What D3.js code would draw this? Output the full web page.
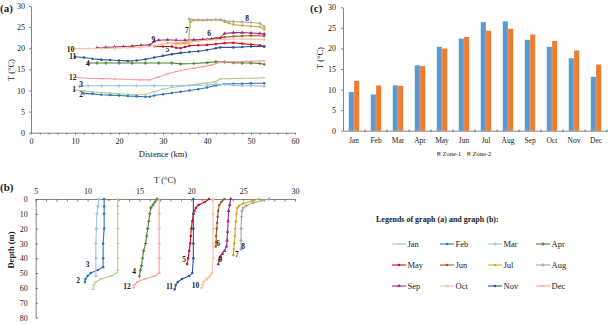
<!DOCTYPE html>
<html><head><meta charset="utf-8">
<script src="https://cdn.jsdelivr.net/npm/d3@7"></script>
<style>
body{margin:0;background:#fff}
svg{display:block}
text{font-family:"Liberation Serif","Times New Roman",serif;fill:#222}
</style>
</head><body>
<svg id="chart" width="608" height="324"></svg>
<script>
// ---------- DATA ----------
const months = ["Jan","Feb","Mar","Apr","May","Jun","Jul","Aug","Sep","Oct","Nov","Dec"];
const zone1 = [9.4, 8.8, 11.0, 15.9, 20.4, 22.4, 26.4, 26.6, 22.1, 20.4, 17.6, 13.1];
const zone2 = [12.1, 11.0, 10.9, 15.7, 20.0, 22.8, 24.3, 24.8, 23.4, 21.8, 19.5, 16.1];
const zoneNames = ["Zone-1","Zone-2"];

// (a) temperature along distance: [km, °C]
const aJan = [[10,10.1],[12,9.9],[14,9.7],[16,9.5],[18,9.4],[20,9.2],[22,9.1],[24,9.0],[26,9.1],[28,9.7],[30,10.3],[32,10.7],[34,11.0],[36,11.2],[38,11.5],[40,11.8],[42,12.1],[43,12.7],[45,12.8],[48,12.9],[50,12.9],[53,13.0]];
const aFeb = [[12,9.3],[14,9.2],[16,9.0],[18,8.9],[20,8.8],[22,8.7],[24,8.6],[26,8.5],[27,8.5],[28,8.8],[30,9.1],[32,9.4],[34,9.7],[36,10.0],[38,10.3],[40,10.7],[42,11.2],[44,11.5],[46,11.6],[48,11.6],[50,11.7],[53,11.7]];
const aMar = [[11,11.0],[13,11.1],[16,11.1],[20,11.1],[24,11.1],[28,11.1],[32,11.1],[36,11.2],[40,11.3],[42,11.5],[44,11.4],[46,11.2],[48,11.1],[50,11.1],[53,11.0]];
const aApr = [[13,16.5],[15,16.5],[17,16.5],[20,16.5],[23,16.5],[26,16.5],[29,16.5],[32,16.5],[34,16.3],[37,16.4],[40,16.6],[42,16.8],[44,16.7],[46,16.6],[48,16.5],[50,16.5],[52,16.4],[53,16.2]];
const aMay = [[28,20.5],[30,20.4],[32,20.4],[33,20.1],[34,20.0],[35,20.3],[36,20.6],[38,20.7],[40,20.8],[42,21.0],[44,21.2],[46,21.3],[48,21.1],[50,20.9],[52,20.7],[53,20.4]];
const aJun = [[34,21.3],[36,21.5],[38,21.8],[40,22.1],[42,22.4],[44,22.6],[46,22.8],[48,22.9],[50,23.0],[53,22.9]];
const aJul = [[31,21.2],[33,21.1],[34,21.1],[35,21.2],[35.8,21.3],[36.2,26.3],[37,26.6],[39,26.6],[41,26.7],[43,26.7],[44,26.3],[45,25.9],[46,25.6],[48,25.4],[50,25.2],[52,25.1],[53,24.5]];
const aAug = [[36,26.9],[38,26.7],[40,26.7],[42,26.8],[43,26.8],[44,26.5],[46,26.3],[48,26.2],[50,26.1],[52,25.9],[53,25.1]];
const aSep = [[15,20.1],[17,20.2],[19,20.3],[21,20.4],[23,20.5],[25,20.7],[27,20.8],[28,21.6],[29,21.9],[31,22.0],[33,21.9],[35,21.9],[37,22.0],[39,22.1],[41,22.2],[43,22.4],[44,23.5],[46,23.7],[48,23.7],[50,23.6],[52,23.5],[53,23.4]];
const aOct = [[10,19.9],[13,19.9],[16,20.0],[19,20.0],[22,20.1],[25,20.2],[28,20.6],[30,21.0],[32,21.2],[34,21.4],[36,21.5],[38,21.7],[40,21.9],[42,22.0],[44,22.1],[46,22.2],[48,22.2],[50,22.1],[53,22.1]];
const aNov = [[10,18.0],[12,17.8],[14,17.5],[16,17.3],[18,17.2],[20,17.1],[22,17.0],[24,17.1],[26,17.4],[28,17.8],[30,18.2],[32,18.6],[34,18.9],[36,19.1],[38,19.3],[40,19.6],[42,20.0],[43,20.2],[46,20.2],[48,20.3],[50,20.4],[53,20.4]];
const aDec = [[10,13.1],[13,12.9],[16,12.8],[19,12.7],[22,12.6],[25,12.5],[27,12.5],[29,13.2],[31,13.9],[33,14.5],[35,14.9],[37,15.3],[39,15.6],[41,16.0],[43,16.7],[46,16.8],[49,16.9],[53,17.0]];

// (b) vertical profiles: [°C, depth m]
const bJan = [[12.9,0],[12.9,5],[12.9,10],[12.9,20],[12.9,30],[12.9,40],[12.9,48],[12.8,50],[12.3,52],[11.3,54],[10.8,56],[10.6,58],[10.5,61]];
const bFeb = [[11.6,0],[11.6,5],[11.6,10],[11.6,20],[11.5,30],[11.5,40],[11.5,46],[11.0,48],[10.3,50],[10.0,52],[9.8,54],[9.75,56]];
const bMar = [[11.1,0],[11.0,5],[10.9,10],[10.85,20],[10.8,30],[10.8,40],[10.8,52]];
const bApr = [[16.7,0],[16.5,2],[16.3,4],[16.1,6],[16.0,10],[15.9,15],[15.8,20],[15.7,25],[15.6,30],[15.4,35],[15.3,40],[15.2,45],[15.1,48],[15.0,52]];
const bMay = [[21.7,0],[21.3,2],[20.7,4],[20.45,6],[20.3,8],[20.2,10],[20.1,15],[20.0,20],[19.95,25],[19.9,30],[19.8,35],[19.7,40],[19.6,44]];
const bJun = [[23.2,0],[22.9,2],[22.7,4],[22.6,8],[22.55,12],[22.5,16],[22.45,20],[22.4,25],[22.4,29],[22.35,32]];
const bJul = [[26.5,0],[25.8,1.5],[25.0,3],[24.6,4.5],[24.45,6],[24.35,10],[24.3,15],[24.25,20],[24.2,25],[24.15,30],[24.1,34],[24.05,38]];
const bAug = [[27.5,0],[26.8,1],[26.0,2.5],[25.3,4.5],[25.0,6],[24.9,8],[24.85,12],[24.8,20],[24.8,28],[24.8,34]];
const bSep = [[23.8,0],[23.7,4],[23.6,8],[23.55,15],[23.5,22],[23.45,28],[23.4,32],[23.2,35],[23.0,37],[22.8,39],[22.7,41],[22.6,44]];
const bOct = [[22.1,0],[22.1,10],[22.1,20],[22.1,30],[22.1,40],[22.0,50],[21.8,52],[21.5,54],[21.2,56],[21.1,58],[21.0,60]];
const bNov = [[20.2,0],[20.2,10],[20.2,20],[20.2,30],[20.2,40],[20.1,50],[19.8,52],[19.1,54],[18.7,56],[18.5,58],[18.4,61]];
const bDec = [[16.9,0],[16.9,10],[16.9,20],[16.9,30],[16.9,40],[16.9,50],[16.5,52],[15.5,54],[14.8,56],[14.5,58],[14.4,60]];

// month-number annotations (data units)
const labelsA = [["10",9.0,19.8],["11",9.5,18.0],["4",12.9,16.4],["12",9.5,13.1],["3",11.4,11.4],["1",9.8,10.3],["2",11.4,9.0],["9",27.8,22.1],["5",31.0,19.8],["7",35.4,24.3],["6",40.5,23.4],["8",49.1,27.0]];
const labelsB = [["3",10.0,44.0],["2",9.1,54.6],["4",14.5,48.7],["12",13.8,59.0],["5",19.3,40.7],["11",17.9,59.0],["10",20.4,58.6],["6",22.6,29.7],["9",22.8,41.0],["7",24.4,37.7],["8",25.0,31.7]];

const seriesA = [aJan,aFeb,aMar,aApr,aMay,aJun,aJul,aAug,aSep,aOct,aNov,aDec];
const seriesB = [bJan,bFeb,bMar,bApr,bMay,bJun,bJul,bAug,bSep,bOct,bNov,bDec];

// ---------- STYLE ----------
const monthColors = ["#a9d18e","#2e75b6","#9dc3e6","#548235","#d01020","#9c5a2c","#d4a92a","#a5a5a5","#a0306e","#f7c4a0","#2f5597","#ff9a9a"];
const monthMarkers = ["dash","circle","plus","plus","square","circle","circle","plus","triangle","plus","circle","dash"];
const zoneColors = ["#5b9bd5","#ed7d31"];
const axisColor = "#666";

const svg = d3.select("#chart");

function marker(sel, type, color, x, y) {
  if (type === "dash") {
    sel.append("line").attr("x1", x-1.6).attr("x2", x+1.6).attr("y1", y).attr("y2", y)
      .attr("stroke", color).attr("stroke-width", 1);
    return;
  }
  const map = {circle:d3.symbolCircle, square:d3.symbolSquare, triangle:d3.symbolTriangle, plus:d3.symbolCross};
  const size = {circle:5, square:5, triangle:6, plus:6}[type];
  sel.append("path").attr("d", d3.symbol().type(map[type]).size(size)())
    .attr("transform", `translate(${x},${y})`).attr("fill", color);
}

function styleAxis(g) {
  g.selectAll("path,line").attr("stroke", axisColor).attr("stroke-width", 0.8);
  g.selectAll("text").attr("font-family", '"Liberation Serif",serif').attr("fill", "#333");
}

// ---------- PANEL (a) ----------
const xA = d3.scaleLinear().domain([0,60]).range([31,295]);
const yA = d3.scaleLinear().domain([0,30]).range([132.7,6]);
const gA = svg.append("g");

gA.append("g").attr("transform", `translate(0,${yA(0)})`)
  .call(d3.axisBottom(xA).tickValues(d3.range(0,61,2)).tickSizeInner(2).tickSizeOuter(0).tickPadding(4)
    .tickFormat(d => d % 10 === 0 ? d : ""))
  .call(styleAxis).call(g => g.selectAll("text").attr("font-size", 8));
gA.append("g").attr("transform", `translate(${xA(0)},0)`)
  .call(d3.axisLeft(yA).tickValues(d3.range(0,31,5)).tickSizeInner(2).tickSizeOuter(0).tickPadding(4))
  .call(styleAxis).call(g => g.selectAll("text").attr("font-size", 8));

const lineA = d3.line().x(d => xA(d[0])).y(d => yA(d[1]));
seriesA.forEach((s, i) => {
  const g = gA.append("g");
  g.append("path").attr("d", lineA(s)).attr("fill", "none").attr("stroke", monthColors[i]).attr("stroke-width", 1.1);
  s.forEach(p => marker(g, monthMarkers[i], monthColors[i], xA(p[0]), yA(p[1])));
});
labelsA.forEach(l => {
  gA.append("text").attr("x", xA(l[1])).attr("y", yA(l[2])).attr("dy", "0.35em")
    .attr("text-anchor", "middle").attr("font-size", 7.5).attr("font-weight", "bold").text(l[0]);
});
gA.append("text").attr("x", 163).attr("y", 157).attr("text-anchor", "middle").attr("font-size", 8.5).text("Distence (km)");
gA.append("text").attr("transform", "translate(14,70) rotate(-90)").attr("text-anchor", "middle").attr("font-size", 8.5).text("T (°C)");
svg.append("text").attr("x", 0).attr("y", 12).attr("font-size", 11).attr("font-weight", "bold").text("(a)");

// ---------- PANEL (c) ----------
const xC = d3.scaleBand().domain(months).range([343,607]);
const xZ = d3.scaleBand().domain(zoneNames).range([0, 11]).padding(0.05);
const yC = d3.scaleLinear().domain([0,30]).range([130.7,7.3]);
const gC = svg.append("g");

gC.append("g").attr("transform", `translate(${xC.range()[0]},0)`)
  .call(d3.axisLeft(yC).tickValues(d3.range(0,31,5)).tickSizeInner(2).tickSizeOuter(0).tickPadding(5))
  .call(styleAxis).call(g => g.selectAll("text").attr("font-size", 8));

months.forEach((m, i) => {
  [zone1[i], zone2[i]].forEach((v, j) => {
    gC.append("rect")
      .attr("x", xC(m) + (xC.bandwidth() - 11) / 2 + xZ(zoneNames[j]))
      .attr("width", xZ.bandwidth())
      .attr("y", yC(v)).attr("height", yC(0) - yC(v))
      .attr("fill", zoneColors[j]);
  });
});
gC.append("g").attr("transform", `translate(0,${yC(0)})`)
  .call(d3.axisBottom(xC).tickSize(0).tickPadding(7))
  .call(styleAxis).call(g => g.selectAll("text").attr("font-size", 7.5));
months.forEach((m, i) => {
  gC.append("line").attr("x1", xC(m) + xC.bandwidth()).attr("x2", xC(m) + xC.bandwidth())
    .attr("y1", yC(0) - 1.5).attr("y2", yC(0) + 1.5).attr("stroke", axisColor).attr("stroke-width", 0.8);
});
gC.append("text").attr("transform", "translate(323,58) rotate(-90)").attr("text-anchor", "middle").attr("font-size", 8.5).text("T (°C)");
svg.append("text").attr("x", 310).attr("y", 12).attr("font-size", 11).attr("font-weight", "bold").text("(c)");
zoneNames.forEach((z, j) => {
  const lx = 437 + j * 30;
  gC.append("rect").attr("x", lx).attr("y", 152).attr("width", 3.5).attr("height", 3.5).attr("fill", zoneColors[j]);
  gC.append("text").attr("x", lx + 5.5).attr("y", 156.3).attr("font-size", 6.5).attr("fill", "#555").text(z);
});

// ---------- PANEL (b) ----------
const xB = d3.scaleLinear().domain([5,30]).range([35.7,295]);
const yB = d3.scaleLinear().domain([0,80]).range([199,317.5]);
const gB = svg.append("g");

gB.append("g").attr("transform", `translate(0,${yB(0)})`)
  .call(d3.axisTop(xB).tickValues(d3.range(5,30.5,1)).tickSizeInner(-2.5).tickSizeOuter(0).tickPadding(5)
    .tickFormat(d => d % 5 === 0 ? d : ""))
  .call(styleAxis).call(g => g.selectAll("text").attr("font-size", 8));
gB.append("g").attr("transform", `translate(${xB(5)},0)`)
  .call(d3.axisLeft(yB).tickValues(d3.range(0,81,10)).tickSizeInner(-2.5).tickSizeOuter(0).tickPadding(8))
  .call(styleAxis).call(g => g.selectAll("text").attr("font-size", 8));

const lineB = d3.line().x(d => xB(d[0])).y(d => yB(d[1]));
seriesB.forEach((s, i) => {
  const g = gB.append("g");
  g.append("path").attr("d", lineB(s)).attr("fill", "none").attr("stroke", monthColors[i]).attr("stroke-width", 1.1);
  s.forEach(p => marker(g, monthMarkers[i], monthColors[i], xB(p[0]), yB(p[1])));
});
labelsB.forEach(l => {
  gB.append("text").attr("x", xB(l[1])).attr("y", yB(l[2])).attr("dy", "0.35em")
    .attr("text-anchor", "middle").attr("font-size", 7.5).attr("font-weight", "bold").text(l[0]);
});
gB.append("text").attr("x", 165).attr("y", 183).attr("text-anchor", "middle").attr("font-size", 8.5).text("T (°C)");
gB.append("text").attr("transform", "translate(14,250) rotate(-90)").attr("text-anchor", "middle").attr("font-size", 8.5).attr("font-weight", "bold").text("Depth (m)");
svg.append("text").attr("x", 0).attr("y", 191).attr("font-size", 11).attr("font-weight", "bold").text("(b)");

// ---------- LEGEND for (a)/(b) ----------
const gL = svg.append("g");
gL.append("text").attr("x", 376).attr("y", 222).attr("font-size", 8).attr("font-weight", "bold")
  .text("Legends of  graph (a) and graph (b):");
months.forEach((m, i) => {
  const col = i % 4, row = Math.floor(i / 4);
  const lx = 392 + col * 48, ly = 244 + row * 21;
  gL.append("line").attr("x1", lx).attr("x2", lx + 14).attr("y1", ly).attr("y2", ly)
    .attr("stroke", monthColors[i]).attr("stroke-width", 1.1);
  marker(gL, monthMarkers[i], monthColors[i], lx + 7, ly);
  gL.append("text").attr("x", lx + 15.5).attr("y", ly).attr("dy", "0.35em").attr("font-size", 8.5).attr("fill", "#444").text(m);
});
</script>
</body></html>
